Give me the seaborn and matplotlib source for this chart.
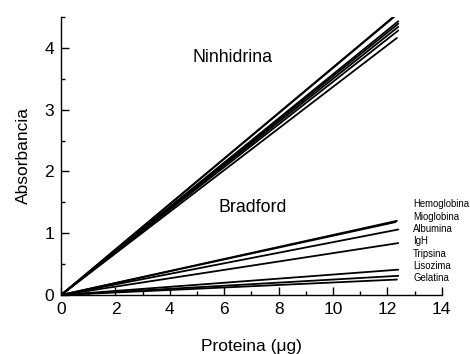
import pandas as pd
import numpy as np
import seaborn as sns
import matplotlib.pyplot as plt
from matplotlib.ticker import MultipleLocator

proteins = ['Hemoglobina', 'Mioglobina', 'Albumina', 'IgH', 'Tripsina', 'Lisozima', 'Gelatina']
x_end = [12.35, 12.3, 12.4, 12.4, 12.4, 12.4, 12.35]
ninhidrina_end = [4.55, 4.52, 4.43, 4.39, 4.34, 4.28, 4.16]
bradford_end = [1.20, 1.18, 1.06, 0.84, 0.41, 0.31, 0.25]

rows = []
for p, xe, n, b in zip(proteins, x_end, ninhidrina_end, bradford_end):
    rows += [
        {'protein': p, 'method': 'Ninhidrina', 'x': 0.0, 'y': 0.0},
        {'protein': p, 'method': 'Ninhidrina', 'x': xe, 'y': n},
        {'protein': p, 'method': 'Bradford', 'x': 0.0, 'y': 0.0},
        {'protein': p, 'method': 'Bradford', 'x': xe, 'y': b},
    ]
df = pd.DataFrame(rows)
df['series'] = df['method'] + ' ' + df['protein']

sns.set_style("ticks")
plt.rcParams['font.family'] = ['Liberation Sans', 'DejaVu Sans']
plt.rcParams['text.color'] = 'black'
plt.rcParams['axes.labelcolor'] = 'black'

fig = plt.figure(figsize=(4.7, 3.54), dpi=100)
ax = fig.add_axes([0.13, 0.1667, 0.81, 0.7855])

sns.lineplot(data=df, x='x', y='y', units='series', estimator=None,
             color='black', linewidth=1.3, ax=ax)

ax.set_xlim(0, 14)
ax.set_ylim(0, 4.5)
ax.xaxis.set_major_locator(MultipleLocator(2))
ax.xaxis.set_minor_locator(MultipleLocator(1))
ax.yaxis.set_major_locator(MultipleLocator(1))
ax.yaxis.set_minor_locator(MultipleLocator(0.5))
ax.tick_params(which='major', direction='in', length=6, width=1, labelsize=12.5, pad=5, colors='black')
ax.tick_params(which='minor', direction='in', length=3, width=1, colors='black')
sns.despine(ax=ax)
for s in ['left', 'bottom']:
    ax.spines[s].set_color('black')
    ax.spines[s].set_linewidth(1)

ax.set_xlabel('Proteina (\u03bcg)', fontsize=12.5, labelpad=16)
ax.set_ylabel('Absorbancia', fontsize=12.5, labelpad=10)

ax.text(6.3, 3.84, 'Ninhidrina', fontsize=12.8, ha='center', va='center')
ax.text(7.05, 1.41, 'Bradford', fontsize=12.8, ha='center', va='center')

for i, p in enumerate(proteins):
    ax.text(12.95, 1.47 - i * 0.2, p, fontsize=6.9, ha='left', va='center', clip_on=False)

fig.savefig('out.png', dpi=100)
